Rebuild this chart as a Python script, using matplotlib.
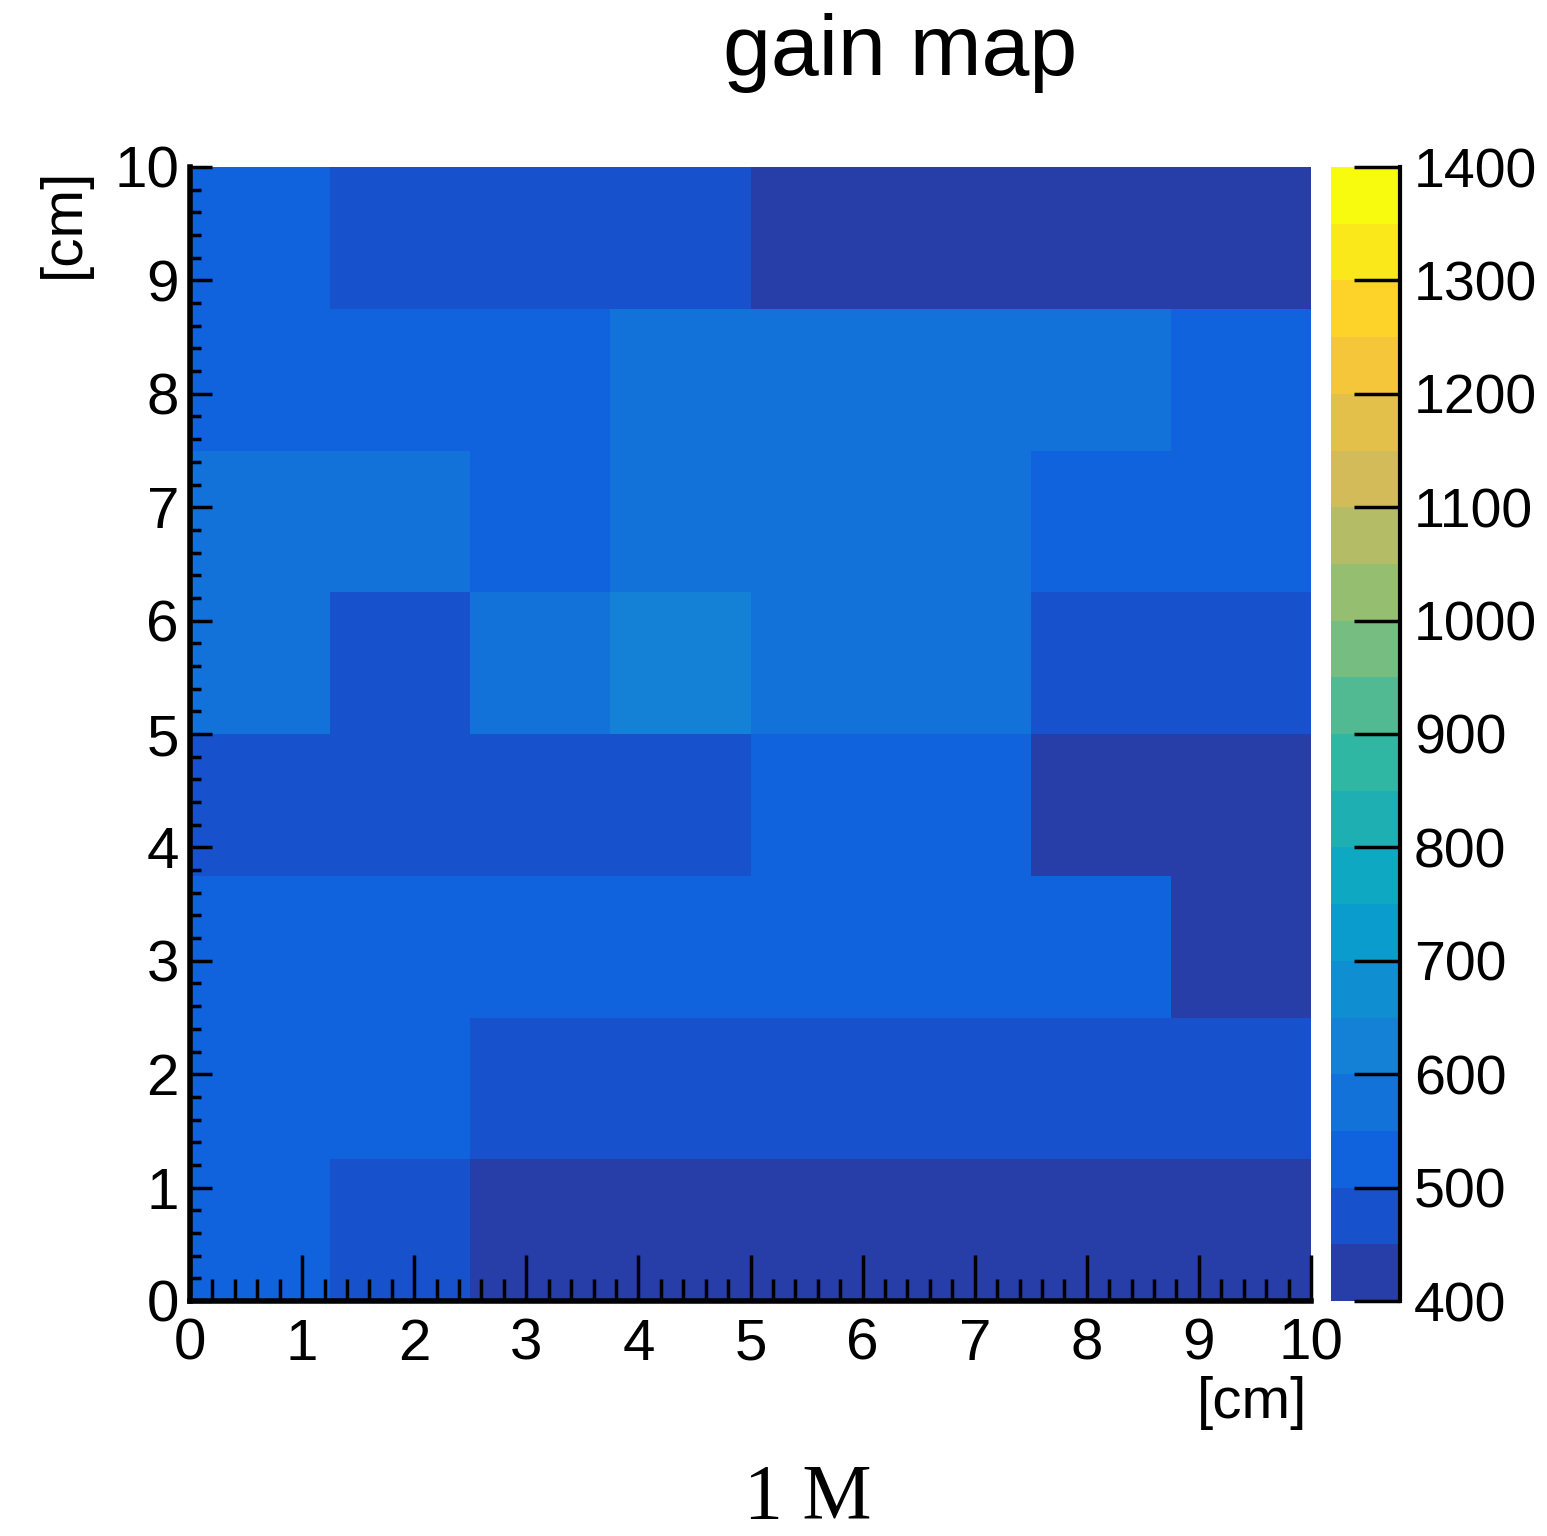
import matplotlib
matplotlib.use("Agg")
import matplotlib.pyplot as plt
import numpy as np
from matplotlib.colors import LinearSegmentedColormap, ListedColormap, BoundaryNorm
from matplotlib.ticker import MultipleLocator

# gain per 1.25 cm cell, rows from bottom (y=0) to top (y=10), columns left to right
gain = [
    [525, 475, 425, 425, 425, 425, 425, 425],
    [525, 525, 475, 475, 475, 475, 475, 475],
    [525, 525, 525, 525, 525, 525, 525, 425],
    [475, 475, 475, 475, 525, 525, 425, 425],
    [575, 475, 575, 625, 575, 575, 475, 475],
    [575, 575, 525, 575, 575, 575, 525, 525],
    [525, 525, 525, 575, 575, 575, 575, 525],
    [525, 475, 475, 475, 425, 425, 425, 425],
]
x_range = (0, 10)
y_range = (0, 10)
z_min, z_max, z_step = 400, 1400, 50
cbar_ticks = [400, 500, 600, 700, 800, 900, 1000, 1100, 1200, 1300, 1400]

# ROOT kBird palette
stops = [0.0, 0.125, 0.25, 0.375, 0.5, 0.625, 0.75, 0.875, 1.0]
red = [0.2082, 0.0592, 0.0780, 0.0232, 0.1802, 0.5301, 0.8186, 0.9956, 0.9764]
green = [0.1664, 0.3599, 0.5041, 0.6419, 0.7178, 0.7492, 0.7328, 0.7862, 0.9832]
blue = [0.5293, 0.8684, 0.8385, 0.7914, 0.6425, 0.4662, 0.3499, 0.1968, 0.0539]
bird = LinearSegmentedColormap.from_list(
    "bird", list(zip(stops, zip(red, green, blue))))

levels = np.arange(z_min, z_max + z_step, z_step)
nband = len(levels) - 1
cmap = ListedColormap([bird((i + 1) / nband) for i in range(nband)])
norm = BoundaryNorm(levels, cmap.N)

plt.rcParams['font.family'] = ['Liberation Sans', 'DejaVu Sans']

W, H = 1547, 1536
fig = plt.figure(figsize=(W / 100, H / 100), dpi=100)
ax = fig.add_axes([190 / W, 1 - 1301 / H, (1311 - 190) / W, (1301 - 167) / H])
cax = fig.add_axes([1331 / W, 1 - 1301 / H, (1400 - 1331) / W, (1301 - 167) / H])

z = np.array(gain)
xe = np.linspace(x_range[0], x_range[1], z.shape[1] + 1)
ye = np.linspace(y_range[0], y_range[1], z.shape[0] + 1)
mesh = ax.pcolormesh(xe, ye, z, cmap=cmap, norm=norm)
ax.set_xlim(*x_range)
ax.set_ylim(*y_range)

for s in ['top', 'right']:
    ax.spines[s].set_visible(False)
for s in ['left', 'bottom']:
    ax.spines[s].set_linewidth(4)
ax.xaxis.set_major_locator(MultipleLocator(1))
ax.yaxis.set_major_locator(MultipleLocator(1))
ax.xaxis.set_minor_locator(MultipleLocator(0.2))
ax.yaxis.set_minor_locator(MultipleLocator(0.2))
ax.tick_params(which='both', direction='in', width=2.5, top=False, right=False)
ax.tick_params(which='major', labelsize=42)
ax.tick_params(axis='x', which='major', length=33, pad=12)
ax.tick_params(axis='x', which='minor', length=16)
ax.tick_params(axis='y', which='major', length=16, pad=8)
ax.tick_params(axis='y', which='minor', length=8)

cbar = fig.colorbar(mesh, cax=cax, ticks=cbar_ticks)
cbar.outline.set_visible(False)
cax.spines['right'].set_visible(True)
cax.spines['right'].set_linewidth(3)
cax.tick_params(direction='in', length=33, width=2.5, labelsize=40, pad=10)
cax.minorticks_off()

fig.text(900 / W, 1 - 75 / H, 'gain map', ha='center', va='baseline', fontsize=62)
fig.text(1307 / W, 1 - 1403 / H, '[cm]', ha='right', va='center', fontsize=42)
fig.text(64 / W, 1 - 168 / H, '[cm]', ha='center', va='top', rotation=90, fontsize=42)
fig.text(808 / W, 1 - 1518 / H, '1 M', ha='center', va='baseline', fontsize=56,
         family=['Liberation Serif', 'DejaVu Serif'])

fig.savefig('out.png', dpi=100)
